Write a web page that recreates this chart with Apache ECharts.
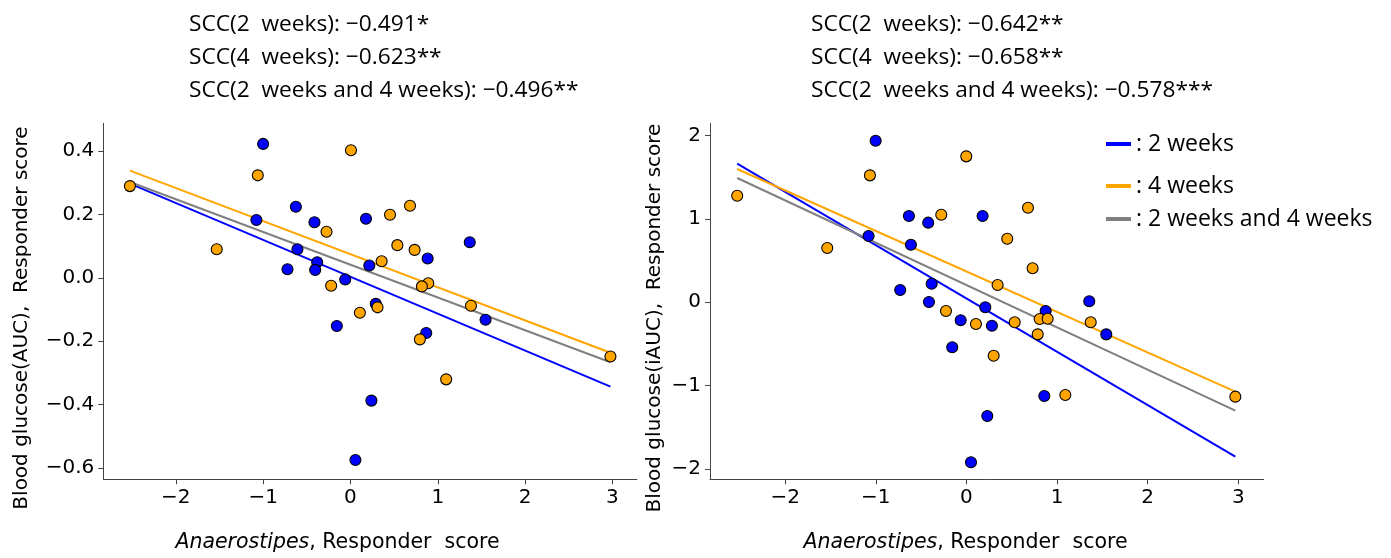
<!DOCTYPE html>
<html>
<head>
<meta charset="utf-8">
<script src="https://cdn.jsdelivr.net/npm/echarts@6/dist/echarts.min.js"></script>
<style>
html,body{margin:0;padding:0;background:#fff;}
#chart{width:1391px;height:558px;}
</style>
</head>
<body>
<div id="chart"></div>
<script>
// ---------- Data ----------
// Left panel: Blood glucose (AUC)
var leftBlue2w = [[-1.0,0.422],[-0.625,0.224],[-1.077,0.182],[-0.412,0.175],[0.178,0.186],[-0.607,0.090],[-0.721,0.027],[-0.381,0.049],[-0.404,0.025],[-0.06,-0.005],[0.216,0.039],[1.366,0.112],[0.884,0.061],[0.29,-0.082],[-0.156,-0.152],[0.868,-0.174],[1.547,-0.132],[0.24,-0.387],[0.057,-0.574]];
var leftOrange4w = [[-2.525,0.289],[0.006,0.402],[-1.061,0.323],[-0.274,0.145],[-1.531,0.090],[-0.221,-0.025],[0.682,0.227],[0.453,0.199],[0.537,0.103],[0.735,0.088],[0.357,0.052],[0.891,-0.017],[0.818,-0.027],[1.38,-0.088],[0.31,-0.093],[0.108,-0.11],[0.795,-0.194],[2.977,-0.248],[1.096,-0.32]];
var leftFitX = [-2.525, 2.977];
var leftFit2w = [0.297, -0.343];
var leftFit4w = [0.338, -0.236];
var leftFitAll = [0.302, -0.266];

// Right panel: Blood glucose (iAUC)
var rightBlue2w = [[-1.002,1.939],[-0.635,1.035],[-0.422,0.955],[0.178,1.035],[-1.08,0.795],[-0.613,0.69],[-0.731,0.146],[-0.384,0.222],[-0.414,0.002],[0.208,-0.061],[-0.064,-0.217],[0.281,-0.282],[-0.157,-0.541],[0.23,-1.366],[0.05,-1.922],[0.874,-0.106],[1.355,0.011],[1.543,-0.386],[0.859,-1.126]];
var rightOrange4w = [[-2.53,1.279],[-1.536,0.651],[-1.065,1.523],[-0.278,1.05],[-0.002,1.751],[-0.226,-0.106],[0.105,-0.262],[0.344,0.206],[0.45,0.762],[0.679,1.134],[0.73,0.407],[0.532,-0.241],[0.3,-0.642],[0.808,-0.202],[0.896,-0.198],[0.786,-0.386],[1.371,-0.241],[1.091,-1.114],[2.967,-1.134]];
var rightFitX = [-2.53, 2.967];
var rightFit2w = [1.663, -1.855];
var rightFit4w = [1.599, -1.074];
var rightFitAll = [1.491, -1.302];

// Tick values
var xTicks = [-2, -1, 0, 1, 2, 3];
var leftYTicks = [-0.6, -0.4, -0.2, 0.0, 0.2, 0.4];
var rightYTicks = [-2, -1, 0, 1, 2];

// Texts
var seriesNames = ['2 weeks', '4 weeks', '2 weeks and 4 weeks'];
var leftTitleLines = ['SCC(2  weeks): \u22120.491*', 'SCC(4  weeks): \u22120.623**', 'SCC(2  weeks and 4 weeks): \u22120.496**'];
var rightTitleLines = ['SCC(2  weeks): \u22120.642**', 'SCC(4  weeks): \u22120.658**', 'SCC(2  weeks and 4 weeks): \u22120.578***'];
var leftYName = 'Blood glucose(AUC),  Responder score';
var rightYName = 'Blood glucose(iAUC),  Responder score';
var xNameItalic = 'Anaerostipes';
var xNameRest = ', Responder  score';

// ---------- Helpers ----------
var BLUE = '#0000ff', ORANGE = '#ffa500', GRAY = '#808080';
function pairs(xs, ys){ return xs.map(function(x,i){ return [x, ys[i]]; }); }
function minusFmt(dec){
  return function(v){
    var s = Math.abs(v).toFixed(dec);
    return (v < -1e-9 ? '\u2212' : '') + s;
  };
}
var tickFont = {fontFamily:'DejaVu Sans', fontSize:20, color:'#000'};

function xAxisDef(gi){
  return {
    type:'value', gridIndex:gi, min:-2.83, max:3.28,
    axisLine:{show:true, onZero:false, lineStyle:{color:'#444', width:1}},
    axisTick:{show:true, length:5, customValues:xTicks, lineStyle:{color:'#444'}},
    axisLabel:Object.assign({margin:8, customValues:xTicks, formatter:minusFmt(0)}, tickFont),
    splitLine:{show:false}
  };
}
function yAxisDef(gi, mn, mx, ticks, dec){
  return {
    type:'value', gridIndex:gi, min:mn, max:mx,
    axisLine:{show:true, onZero:false, lineStyle:{color:'#444', width:1}},
    axisTick:{show:true, length:5, customValues:ticks, lineStyle:{color:'#444'}},
    axisLabel:Object.assign({margin:9, customValues:ticks, formatter:minusFmt(dec)}, tickFont),
    splitLine:{show:false}
  };
}
function lineSeries(name, gi, xs, ys, color){
  return {name:name, type:'line', xAxisIndex:gi, yAxisIndex:gi, data:pairs(xs, ys),
    showSymbol:false, symbol:'none', silent:true, z:1,
    lineStyle:{color:color, width:2}, itemStyle:{color:color}};
}
function scatterSeries(gi, data, color, z){
  return {type:'scatter', xAxisIndex:gi, yAxisIndex:gi, data:data, symbolSize:11, z:z,
    itemStyle:{color:color, borderColor:'#000', borderWidth:1.1, opacity:1}};
}
function legendDef(name, top){
  return {data:[name], left:1106, top:top, padding:0, itemGap:0, selectedMode:false,
    icon:'rect', itemWidth:25, itemHeight:4,
    formatter:': {name}',
    textStyle:{fontFamily:'Open Sans', fontSize:23, color:'#000', lineHeight:26}};
}
var titleStyle = {fontFamily:'Open Sans', fontSize:22.7, fontWeight:'normal', color:'#000', lineHeight:33};

var chart = echarts.init(document.getElementById('chart'));
chart.setOption({
  backgroundColor:'#fff',
  animation:false,
  title:[
    {text:leftTitleLines.join('\n'), left:184, top:3, textStyle:titleStyle},
    {text:rightTitleLines.join('\n'), left:806, top:3, textStyle:titleStyle}
  ],
  legend:[legendDef(seriesNames[0], 131), legendDef(seriesNames[1], 173), legendDef(seriesNames[2], 206)],
  grid:[
    {left:103.3, top:123.3, width:533.6, height:356},
    {left:710, top:123.3, width:553.7, height:356}
  ],
  xAxis:[xAxisDef(0), xAxisDef(1)],
  yAxis:[yAxisDef(0, -0.635, 0.487, leftYTicks, 1), yAxisDef(1, -2.126, 2.148, rightYTicks, 0)],
  series:[
    lineSeries(seriesNames[0], 0, leftFitX, leftFit2w, BLUE),
    lineSeries(seriesNames[1], 0, leftFitX, leftFit4w, ORANGE),
    lineSeries(seriesNames[2], 0, leftFitX, leftFitAll, GRAY),
    scatterSeries(0, leftBlue2w, BLUE, 3),
    scatterSeries(0, leftOrange4w, ORANGE, 4),
    lineSeries(seriesNames[0], 1, rightFitX, rightFit2w, BLUE),
    lineSeries(seriesNames[1], 1, rightFitX, rightFit4w, ORANGE),
    lineSeries(seriesNames[2], 1, rightFitX, rightFitAll, GRAY),
    scatterSeries(1, rightBlue2w, BLUE, 3),
    scatterSeries(1, rightOrange4w, ORANGE, 4)
  ],
  graphic:[
    {type:'text', x:22, y:318, rotation:Math.PI/2,
     style:{text:leftYName, fontFamily:'DejaVu Sans', fontSize:20, fill:'#000', align:'center', verticalAlign:'middle'}},
    {type:'text', x:655, y:318, rotation:Math.PI/2,
     style:{text:rightYName, fontFamily:'DejaVu Sans', fontSize:20, fill:'#000', align:'center', verticalAlign:'middle'}},
    {type:'text', x:337.5, y:543,
     style:{text:'{i|'+xNameItalic+'}'+xNameRest, fontFamily:'DejaVu Sans', fontSize:20.5, fill:'#000', align:'center', verticalAlign:'middle',
       rich:{i:{fontFamily:'DejaVu Sans', fontStyle:'italic', fontSize:20.5, fill:'#000'}}}},
    {type:'text', x:965.5, y:543,
     style:{text:'{i|'+xNameItalic+'}'+xNameRest, fontFamily:'DejaVu Sans', fontSize:20.5, fill:'#000', align:'center', verticalAlign:'middle',
       rich:{i:{fontFamily:'DejaVu Sans', fontStyle:'italic', fontSize:20.5, fill:'#000'}}}}
  ]
});
</script>
</body>
</html>
